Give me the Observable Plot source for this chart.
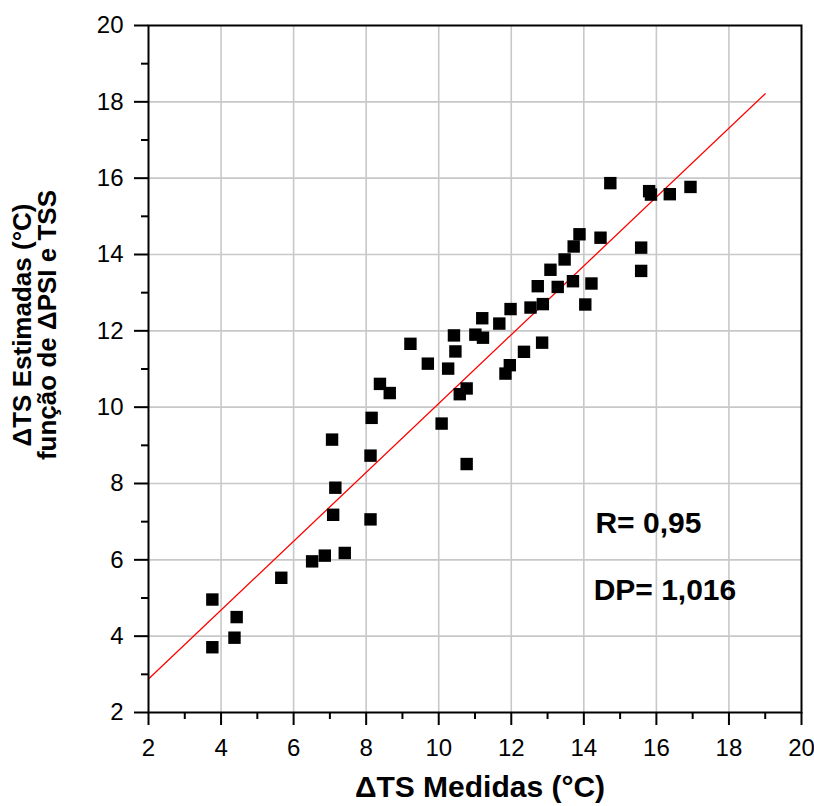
<!DOCTYPE html>
<html>
<head>
<meta charset="utf-8">
<script src="https://cdn.jsdelivr.net/npm/d3@7"></script>
<script src="https://cdn.jsdelivr.net/npm/@observablehq/plot@0.6"></script>
<style>
  html, body { margin: 0; padding: 0; background: #ffffff; }
</style>
</head>
<body>
<div id="chart"></div>
<script>
// Measured ΔTS (x) vs estimated ΔTS (y), °C
const measured = [
  3.76, 3.76, 4.43, 4.37, 5.66, 6.51, 6.86, 7.41, 7.09, 8.12,
  7.15, 8.12, 7.06, 8.15, 8.38, 8.65, 9.22, 9.70, 10.08, 10.77,
  10.26, 10.42, 10.46, 10.58, 10.77, 11.01, 11.22, 11.20, 11.67, 11.98,
  11.84, 11.96, 12.35, 12.85, 12.53, 12.87, 12.73, 13.28, 13.70, 14.21,
  14.04, 13.08, 13.47, 13.72, 13.88, 14.46, 14.73, 15.80, 15.85, 16.37,
  16.94, 15.58, 15.58
];
const estimated = [
  4.96, 3.71, 4.50, 3.96, 5.53, 5.96, 6.11, 6.18, 7.18, 7.06,
  7.89, 8.73, 9.15, 9.72, 10.61, 10.37, 11.66, 11.14, 9.57, 8.51,
  11.01, 11.88, 11.46, 10.34, 10.49, 11.90, 11.82, 12.33, 12.19, 12.57,
  10.88, 11.10, 11.45, 11.69, 12.61, 12.70, 13.17, 13.15, 13.30, 13.24,
  12.69, 13.60, 13.87, 14.21, 14.53, 14.44, 15.87, 15.66, 15.57, 15.58,
  15.77, 14.18, 13.57
];

// Regression line end points
const fitX = [2, 19];
const fitY = [2.88, 18.21];

// Axis ticks
const xTicks = [2, 4, 6, 8, 10, 12, 14, 16, 18, 20];
const xMinor = [3, 5, 7, 9, 11, 13, 15, 17, 19];
const yTicks = [2, 4, 6, 8, 10, 12, 14, 16, 18, 20];
const yMinor = [3, 5, 7, 9, 11, 13, 15, 17, 19];
const gridValues = [4, 6, 8, 10, 12, 14, 16, 18];

// Texts
const xLabel = "ΔTS Medidas (°C)";
const yLabelLines = ["ΔTS Estimadas (°C)", "função de ΔPSI e TSS"];
const statTexts = ["R= 0,95", "DP= 1,016"];
const statX = [14.32, 14.27];
const statY = [6.95, 5.21];

const points = measured.map((m, i) => ({x: m, y: estimated[i]}));
const fit = fitX.map((v, i) => ({x: v, y: fitY[i]}));
const stats = statTexts.map((t, i) => ({t, x: statX[i], y: statY[i]}));

const font = "'Liberation Sans', Arial, sans-serif";

const chart = Plot.plot({
  width: 814,
  height: 806,
  marginLeft: 148,
  marginRight: 13,
  marginTop: 25,
  marginBottom: 94,
  style: {background: "#ffffff", fontFamily: font, color: "#000000"},
  x: {domain: [2, 20], label: null},
  y: {domain: [2, 20], label: null},
  marks: [
    Plot.gridX(gridValues, {stroke: "#c8c8c8", strokeOpacity: 1, strokeWidth: 1.6}),
    Plot.gridY(gridValues, {stroke: "#c8c8c8", strokeOpacity: 1, strokeWidth: 1.6}),
    Plot.axisX(xTicks, {tickSize: 13, tickPadding: 13, strokeWidth: 2, fontSize: 24, label: null}),
    Plot.axisX(xMinor, {tickSize: 7, strokeWidth: 2, tickFormat: () => "", label: null}),
    Plot.axisY(yTicks, {tickSize: 14, tickPadding: 11, strokeWidth: 2, fontSize: 24, label: null}),
    Plot.axisY(yMinor, {tickSize: 7, strokeWidth: 2, tickFormat: () => "", label: null}),
    Plot.line(fit, {x: "x", y: "y", stroke: "#ff0000", strokeWidth: 1.3}),
    Plot.dot(points, {x: "x", y: "y", symbol: "square", r: 7, fill: "#000000", stroke: "none"}),
    Plot.text(stats, {x: "x", y: "y", text: "t", textAnchor: "start", fontSize: 30, fontWeight: "bold", fill: "#000000"}),
    Plot.text([xLabel], {frameAnchor: "bottom", text: d => d, textAnchor: "middle", dy: 84, dx: 5, fontSize: 30, fontWeight: "bold", fill: "#000000"}),
    Plot.text([yLabelLines.join("\n")], {frameAnchor: "left", text: d => d, textAnchor: "middle", lineAnchor: "middle", rotate: -90, dx: -113, dy: -44, fontSize: 26, lineHeight: 0.98, fontWeight: "bold", fill: "#000000"}),
    Plot.frame({stroke: "#000000", strokeWidth: 2})
  ]
});
document.getElementById("chart").appendChild(chart);
</script>
</body>
</html>
